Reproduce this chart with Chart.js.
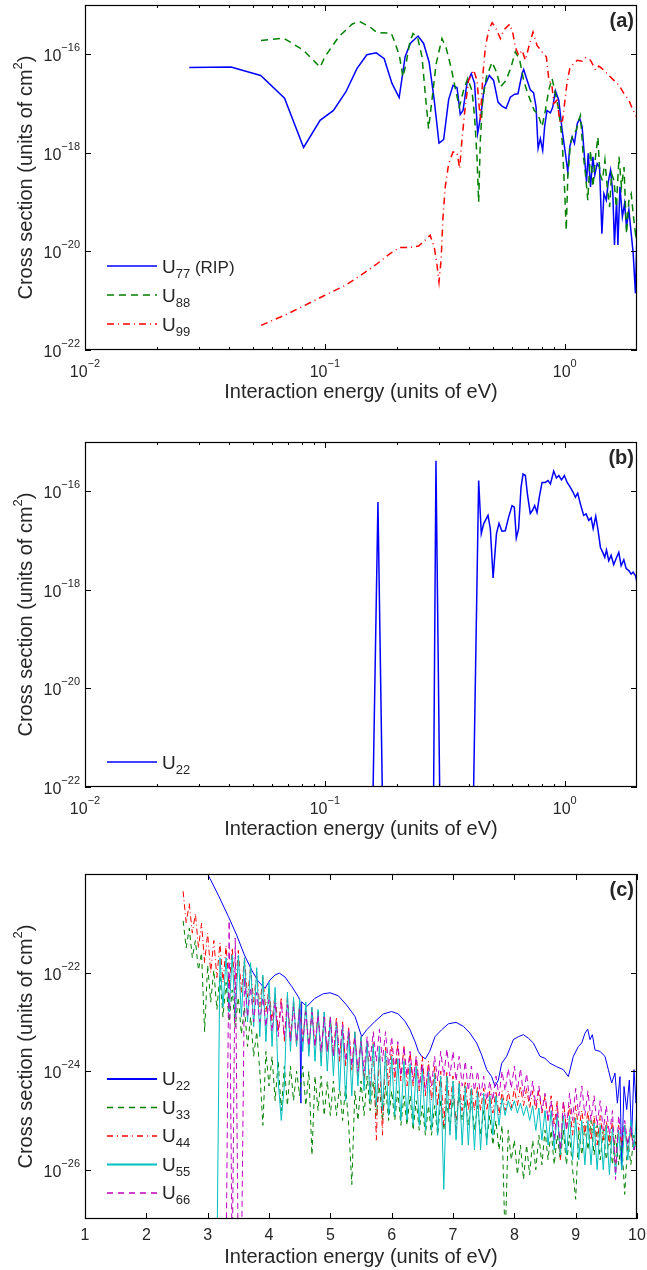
<!DOCTYPE html>
<html>
<head>
<meta charset="utf-8">
<script src="https://cdn.jsdelivr.net/npm/chart.js@4.4.1/dist/chart.umd.min.js"></script>
<style>
  body { margin: 0; background: #fff; }
  .panel { position: absolute; left: 0; }
</style>
</head>
<body>
<div class="panel" style="top:0px"><canvas id="chartA" width="647" height="420"></canvas></div>
<div class="panel" style="top:420px"><canvas id="chartB" width="647" height="430"></canvas></div>
<div class="panel" style="top:840px"><canvas id="chartC" width="647" height="430"></canvas></div>
<script>
// ---- data (cross sections stored as log10 values) ----

// panel (a)
const u77Energy = [0.0272, 0.0406, 0.054, 0.0679, 0.0815, 0.0955, 0.1086, 0.1224, 0.136, 0.1496, 0.1637, 0.1767, 0.1904, 0.204, 0.216, 0.227, 0.2445, 0.258, 0.272, 0.2856, 0.299, 0.3126, 0.328, 0.342, 0.3556, 0.3667, 0.3765, 0.391, 0.4076, 0.4207, 0.4333, 0.4477, 0.462, 0.4846, 0.505, 0.527, 0.547, 0.569, 0.593, 0.618, 0.638, 0.664, 0.674, 0.697, 0.718, 0.741, 0.759, 0.774, 0.791, 0.809, 0.824, 0.843, 0.871, 0.891, 0.914, 0.944, 0.975, 1.006, 1.029, 1.049, 1.073, 1.097, 1.127, 1.154, 1.181, 1.208, 1.232, 1.252, 1.28, 1.31, 1.334, 1.365, 1.396, 1.428, 1.456, 1.49, 1.518, 1.552, 1.586, 1.611, 1.644, 1.665, 1.698, 1.738, 1.775, 1.808, 1.85, 1.892, 1.928, 1.97, 2.0];
const u77Log = [-16.27, -16.26, -16.43, -16.89, -17.89, -17.34, -17.14, -16.76, -16.29, -16.01, -15.97, -16.09, -16.59, -16.88, -16.05, -15.78, -15.63, -15.78, -16.16, -16.93, -17.80, -17.73, -16.92, -16.63, -16.68, -17.22, -17.14, -16.59, -16.39, -16.59, -17.61, -17.21, -16.66, -16.43, -16.53, -16.97, -17.05, -17.10, -16.87, -16.81, -16.80, -16.39, -16.31, -16.53, -16.72, -16.78, -17.07, -17.91, -17.71, -17.95, -17.47, -17.14, -17.19, -17.07, -16.74, -16.93, -17.54, -18.01, -18.39, -17.88, -17.68, -17.81, -17.41, -17.30, -17.47, -18.08, -18.59, -18.01, -18.69, -18.08, -18.45, -18.22, -18.29, -19.64, -18.83, -18.96, -18.59, -18.35, -18.83, -19.87, -18.96, -19.87, -18.69, -19.30, -19.03, -19.50, -19.16, -19.64, -20.04, -20.85, -19.64];

const u88Energy = [0.0542, 0.0672, 0.0815, 0.0955, 0.1, 0.114, 0.1297, 0.139, 0.1545, 0.165, 0.189, 0.1966, 0.2048, 0.2115, 0.218, 0.2254, 0.233, 0.2435, 0.254, 0.262, 0.2705, 0.2794, 0.291, 0.3076, 0.3206, 0.3355, 0.35, 0.3633, 0.3787, 0.3936, 0.4104, 0.4207, 0.4305, 0.4375, 0.4446, 0.4545, 0.4713, 0.4977, 0.519, 0.539, 0.569, 0.597, 0.622, 0.649, 0.674, 0.697, 0.718, 0.746, 0.771, 0.804, 0.83, 0.857, 0.885, 0.914, 0.944, 0.975, 0.997, 1.014, 1.029, 1.056, 1.084, 1.118, 1.143, 1.162, 1.192, 1.219, 1.247, 1.28, 1.31, 1.343, 1.374, 1.40, 1.435, 1.47, 1.503, 1.538, 1.567, 1.603, 1.64, 1.683, 1.722, 1.766, 1.808, 1.85, 1.892, 1.928, 1.97, 2.0];
const u88Log = [-15.72, -15.67, -15.92, -16.26, -16.05, -15.65, -15.39, -15.33, -15.45, -15.56, -15.57, -15.78, -16.05, -16.46, -16.19, -15.78, -15.58, -15.66, -16.05, -16.80, -17.51, -16.93, -16.19, -15.68, -15.88, -16.26, -16.70, -17.07, -16.73, -16.49, -16.74, -17.27, -18.08, -19.00, -17.74, -16.93, -16.46, -16.16, -16.36, -16.66, -16.53, -16.26, -15.95, -16.12, -16.53, -16.76, -16.93, -17.14, -17.20, -17.47, -17.14, -16.73, -16.49, -16.80, -17.14, -17.74, -18.69, -19.57, -18.49, -17.81, -17.61, -17.54, -17.34, -17.24, -18.01, -18.42, -18.96, -17.95, -18.69, -18.08, -17.68, -18.42, -18.56, -18.15, -18.69, -19.10, -18.42, -18.56, -19.10, -18.08, -18.69, -18.29, -19.64, -18.96, -18.83, -19.24, -19.64, -19.43];

const u99Energy = [0.0542, 0.0683, 0.0828, 0.1, 0.1216, 0.1473, 0.165, 0.1875, 0.2048, 0.227, 0.246, 0.262, 0.2746, 0.2856, 0.293, 0.299, 0.305, 0.3107, 0.3175, 0.328, 0.342, 0.3556, 0.3647, 0.3726, 0.3845, 0.397, 0.417, 0.4305, 0.4446, 0.456, 0.4667, 0.482, 0.4977, 0.514, 0.539, 0.556, 0.589, 0.608, 0.622, 0.642, 0.664, 0.685, 0.714, 0.737, 0.766, 0.804, 0.838, 0.857, 0.885, 0.90, 0.928, 0.957, 0.979, 0.998, 1.021, 1.049, 1.089, 1.127, 1.181, 1.219, 1.28, 1.343, 1.386, 1.456, 1.527, 1.603, 1.683, 1.766, 1.85, 1.91, 1.99];
const u99Log = [-21.50, -21.29, -21.09, -20.89, -20.69, -20.42, -20.25, -20.04, -19.92, -19.92, -19.89, -19.77, -19.67, -19.91, -20.25, -20.62, -20.18, -19.30, -18.69, -18.22, -17.98, -18.00, -18.32, -17.74, -17.07, -16.53, -16.32, -16.53, -17.34, -16.39, -15.85, -15.51, -15.36, -15.45, -15.68, -15.51, -15.39, -15.58, -15.85, -16.02, -15.92, -16.12, -15.78, -15.55, -15.82, -15.95, -16.05, -16.49, -16.66, -17.00, -16.93, -17.41, -17.34, -17.00, -16.59, -16.29, -16.19, -16.12, -16.14, -16.07, -16.12, -16.32, -16.24, -16.32, -16.43, -16.53, -16.63, -16.80, -16.93, -17.10, -17.27];

// panel (b)
const u22bEnergy = [0.150, 0.1585, 0.1664, 0.1738, 0.180, 0.280, 0.2837, 0.2904, 0.3013, 0.310, 0.410, 0.4159, 0.4375, 0.4487, 0.459, 0.4786, 0.4893, 0.5026, 0.519, 0.532, 0.547, 0.565, 0.583, 0.603, 0.616, 0.628, 0.642, 0.657, 0.670, 0.685, 0.700, 0.718, 0.735, 0.749, 0.766, 0.783, 0.804, 0.830, 0.851, 0.871, 0.899, 0.923, 0.944, 0.969, 0.996, 1.023, 1.055, 1.083, 1.107, 1.132, 1.162, 1.199, 1.227, 1.259, 1.288, 1.313, 1.346, 1.377, 1.408, 1.44, 1.468, 1.492, 1.525, 1.56, 1.599, 1.642, 1.679, 1.718, 1.762, 1.803, 1.849, 1.891, 1.927, 1.97, 2.0];
const u22bLog = [-23, -22.3, -16.22, -22.3, -23, -23, -22.3, -15.38, -22.3, -23, -23, -22.3, -15.78, -16.86, -16.66, -16.49, -16.76, -17.76, -16.86, -16.65, -16.81, -16.80, -16.53, -16.29, -16.32, -16.95, -16.76, -15.92, -15.65, -15.68, -16.09, -16.45, -16.38, -16.29, -16.43, -16.12, -15.82, -15.82, -15.78, -15.85, -15.59, -15.73, -15.68, -15.77, -15.68, -15.82, -15.92, -16.02, -16.12, -16.04, -16.26, -16.49, -16.46, -16.59, -16.54, -16.76, -16.51, -16.80, -17.14, -17.24, -17.34, -17.19, -17.41, -17.30, -17.49, -17.35, -17.24, -17.51, -17.39, -17.57, -17.61, -17.68, -17.64, -17.71, -17.85];

// panel (c)
const u22cEnergy = [2.85, 3.0, 3.174, 3.337, 3.473, 3.598, 3.717, 3.826, 3.935, 4.016, 4.098, 4.168, 4.261, 4.37, 4.478, 4.50, 4.52, 4.533, 4.614, 4.75, 4.886, 4.995, 5.13, 5.266, 5.402, 5.511, 5.593, 5.729, 5.864, 6.0, 6.109, 6.218, 6.299, 6.381, 6.435, 6.489, 6.55, 6.62, 6.707, 6.815, 6.924, 7.049, 7.168, 7.277, 7.386, 7.467, 7.549, 7.63, 7.685, 7.74, 7.794, 7.875, 7.984, 8.066, 8.147, 8.228, 8.31, 8.419, 8.5, 8.582, 8.69, 8.799, 8.881, 8.962, 9.044, 9.098, 9.152, 9.196, 9.234, 9.272, 9.315, 9.397, 9.478, 9.533, 9.587, 9.641, 9.68, 9.723, 9.75, 9.788, 9.832, 9.875, 9.913, 9.951, 9.984, 10.0];
const u22cLog = [-19.7, -20.0, -20.43, -20.86, -21.24, -21.64, -21.95, -22.18, -22.32, -22.15, -22.05, -22.01, -22.09, -22.28, -22.49, -22.55, -24.65, -22.59, -22.69, -22.52, -22.43, -22.41, -22.47, -22.66, -22.89, -23.30, -23.16, -22.99, -22.84, -22.79, -22.84, -22.99, -23.16, -23.40, -23.6, -23.7, -23.75, -23.6, -23.3, -23.16, -23.04, -23.01, -23.09, -23.23, -23.43, -23.67, -23.97, -24.11, -24.31, -24.18, -23.84, -23.70, -23.36, -23.30, -23.26, -23.33, -23.43, -23.70, -23.74, -23.84, -23.91, -23.97, -24.11, -23.70, -23.50, -23.43, -23.23, -23.15, -23.36, -23.26, -23.57, -23.60, -23.70, -23.97, -24.24, -24.04, -24.65, -24.11, -26.0, -24.31, -24.78, -24.18, -25.32, -23.97, -24.65, -23.97];

const gridC = [2.60, 2.65, 2.70, 2.75, 2.80, 2.85, 2.90, 2.95,
  3.00, 3.05, 3.10, 3.15, 3.20, 3.25, 3.30, 3.35, 3.40, 3.45, 3.50, 3.55, 3.60, 3.65, 3.70, 3.75, 3.80, 3.85, 3.90, 3.95,
  4.00, 4.05, 4.10, 4.15, 4.20, 4.25, 4.30, 4.35, 4.40, 4.45, 4.50, 4.55, 4.60, 4.65, 4.70, 4.75, 4.80, 4.85, 4.90, 4.95,
  5.00, 5.05, 5.10, 5.15, 5.20, 5.25, 5.30, 5.35, 5.40, 5.45, 5.50, 5.55, 5.60, 5.65, 5.70, 5.75, 5.80, 5.85, 5.90, 5.95,
  6.00, 6.05, 6.10, 6.15, 6.20, 6.25, 6.30, 6.35, 6.40, 6.45, 6.50, 6.55, 6.60, 6.65, 6.70, 6.75, 6.80, 6.85, 6.90, 6.95,
  7.00, 7.05, 7.10, 7.15, 7.20, 7.25, 7.30, 7.35, 7.40, 7.45, 7.50, 7.55, 7.60, 7.65, 7.70, 7.75, 7.80, 7.85, 7.90, 7.95,
  8.00, 8.05, 8.10, 8.15, 8.20, 8.25, 8.30, 8.35, 8.40, 8.45, 8.50, 8.55, 8.60, 8.65, 8.70, 8.75, 8.80, 8.85, 8.90, 8.95,
  9.00, 9.05, 9.10, 9.15, 9.20, 9.25, 9.30, 9.35, 9.40, 9.45, 9.50, 9.55, 9.60, 9.65, 9.70, 9.75, 9.80, 9.85, 9.90, 9.95,
  10.00];

const u33Log = [-20.95, -21.5, -21.1, -21.7, -21.35, -21.95, -21.6, -23.2,
  -21.85, -22.6, -21.95, -22.75, -22.05, -22.9, -22.2, -23.0, -22.35, -23.1, -22.5, -23.25, -22.7, -23.5, -22.9, -23.7, -23.2, -24.0, -25.1, -23.6,
  -24.3, -23.7, -24.6, -23.8, -24.8, -23.9, -24.7, -23.9, -24.6, -24.0, -24.5, -23.9, -24.7, -24.0, -25.7, -24.1, -24.8, -24.1, -24.9, -24.2,
  -24.9, -24.2, -24.9, -24.3, -25.0, -24.3, -25.1, -26.3, -24.4, -25.0, -24.2, -24.9, -24.1, -24.8, -24.2, -24.9, -24.3, -25.0, -24.3, -25.0,
  -24.4, -25.0, -24.4, -25.1, -24.5, -25.1, -24.5, -25.2, -24.6, -25.2, -24.7, -25.3, -24.7, -25.3, -24.7, -25.3, -24.6, -25.2, -24.6, -25.2,
  -24.5, -25.0, -24.5, -25.0, -24.6, -25.1, -24.6, -25.2, -24.7, -25.3, -24.8, -25.4, -24.9, -25.5, -25.0, -25.6, -25.1, -27.5, -25.2, -25.8,
  -25.4, -26.1, -25.5, -26.2, -25.5, -26.1, -25.4, -26.0, -25.3, -25.9, -25.2, -25.8, -25.2, -25.9, -25.3, -25.8, -25.2, -25.9, -25.3, -26.0,
  -26.6, -25.2, -25.7, -25.1, -25.6, -25.0, -25.7, -25.1, -25.8, -25.2, -25.8, -25.3, -25.9, -25.3, -25.9, -25.4, -26.5, -25.4, -25.9, -25.3,
  -25.6];

const u44Log = [-20.35, -21.0, -20.6, -21.2, -20.8, -21.5, -21.0, -21.8,
  -21.2, -22.0, -21.35, -22.1, -21.4, -22.2, -21.45, -22.3, -21.5, -22.35, -21.55, -22.4, -21.7, -22.5, -21.9, -22.6, -22.0, -22.7, -22.1, -22.8,
  -22.3, -23.0, -22.4, -23.2, -22.5, -23.4, -22.5, -23.3, -22.6, -23.5, -22.6, -23.4, -22.7, -23.6, -22.7, -23.5, -22.8, -23.8, -22.8, -23.6,
  -22.9, -23.7, -22.9, -23.8, -23.0, -23.9, -23.1, -24.0, -23.2, -24.1, -23.3, -24.2, -23.4, -24.4, -23.4, -25.4, -23.5, -25.3, -23.5, -24.3,
  -23.5, -24.2, -23.45, -24.2, -23.5, -24.3, -23.6, -24.3, -23.7, -24.4, -23.7, -24.5, -23.8, -24.6, -23.9, -24.7, -24.0, -25.1, -24.0, -24.8,
  -24.1, -25.3, -24.2, -24.8, -24.2, -24.8, -24.3, -24.8, -24.3, -24.8, -24.35, -24.8, -24.4, -24.85, -24.4, -24.9, -24.4, -24.8, -24.4, -24.75,
  -24.35, -24.7, -24.3, -24.7, -24.35, -24.75, -24.4, -24.8, -24.4, -24.85, -24.5, -25.0, -24.5, -25.1, -24.6, -25.8, -24.6, -25.2, -24.7, -25.3,
  -24.7, -25.2, -24.8, -25.3, -24.8, -25.4, -24.9, -25.5, -24.9, -25.4, -25.0, -25.5, -25.0, -25.9, -25.1, -25.5, -25.1, -25.6, -25.2, -25.6,
  -25.3];

const u55Log = [null, null, null, null, null, null, null, null,
  null, null, null, -28, -21.7, -22.7, -21.7, -22.8, -21.65, -22.9, -21.65, -22.9, -21.7, -23.0, -21.8, -23.1, -21.9, -23.3, -22.05, -23.4,
  -22.2, -23.5, -22.3, -24.2, -25.0, -24.3, -22.4, -23.6, -22.5, -23.5, -22.55, -23.6, -22.6, -23.7, -22.7, -23.8, -22.75, -23.9, -22.8, -24.0,
  -22.9, -24.1, -23.0, -24.4, -23.1, -24.6, -23.2, -24.5, -23.2, -24.3, -23.3, -24.4, -23.4, -24.6, -23.45, -24.7, -23.5, -24.8, -23.6, -24.9,
  -23.7, -24.9, -23.75, -25.0, -23.8, -25.0, -23.85, -25.1, -23.9, -25.1, -23.95, -25.2, -24.0, -25.2, -24.05, -25.3, -24.1, -26.4, -24.1, -25.3,
  -24.2, -25.4, -24.25, -25.5, -24.3, -25.5, -24.35, -25.6, -24.4, -25.6, -24.45, -25.5, -24.5, -25.3, -24.5, -25.1, -24.55, -24.9, -24.6, -24.8,
  -24.6, -24.85, -24.65, -24.9, -24.7, -25.0, -24.7, -25.2, -24.75, -25.4, -24.8, -25.5, -24.8, -25.6, -24.85, -25.7, -24.9, -25.7, -24.9, -25.8,
  -24.95, -25.8, -25.0, -25.9, -25.0, -25.9, -25.05, -26.0, -25.1, -26.0, -25.1, -26.1, -25.15, -26.1, -25.2, -26.0, -25.1, -25.8, -25.0, -25.6,
  -24.8];

const u66Log = [null, null, null, null, null, null, null, null,
  null, null, null, null, null, null, -28, -20.95, -28, -21.3, -28, -28, -22.1, -22.9, -22.3, -23.0, -22.4, -23.0, -22.5, -23.1,
  -22.55, -23.2, -22.6, -23.3, -22.6, -23.3, -22.65, -23.4, -22.7, -23.4, -22.75, -23.4, -22.8, -23.5, -22.8, -23.5, -22.85, -23.6, -22.9, -23.6,
  -22.9, -23.7, -23.0, -23.7, -23.05, -23.8, -23.15, -23.9, -23.3, -24.0, -23.4, -24.0, -23.3, -23.8, -23.2, -23.8, -23.15, -23.8, -23.2, -23.9,
  -23.3, -24.0, -23.4, -24.1, -23.5, -24.1, -23.6, -24.2, -23.7, -24.3, -23.85, -24.4, -23.9, -24.3, -23.7, -24.2, -23.6, -24.1, -23.55, -24.1,
  -23.6, -24.2, -23.7, -24.3, -23.8, -24.4, -23.9, -24.4, -24.0, -24.5, -24.1, -24.6, -24.2, -24.6, -24.1, -24.5, -24.0, -24.4, -23.95, -24.35,
  -23.9, -24.4, -23.95, -24.5, -24.05, -24.6, -24.2, -24.7, -24.3, -24.8, -24.45, -25.0, -24.6, -25.4, -24.7, -25.6, -24.6, -25.2, -24.45, -25.0,
  -24.35, -24.9, -24.3, -24.9, -24.4, -25.0, -24.5, -25.1, -24.6, -25.2, -24.7, -25.3, -24.8, -26.2, -24.9, -25.4, -25.0, -25.5, -25.1, -25.6,
  -25.4];

// ticks
const logXMajor = [0.01, 0.1, 1];
const logXMajorExp = ['\u22122', '\u22121', '0'];
const logXMinor = [0.02, 0.03, 0.04, 0.05, 0.06, 0.07, 0.08, 0.09, 0.2, 0.3, 0.4, 0.5, 0.6, 0.7, 0.8, 0.9];
const logYTicks = [1e-22, 1e-20, 1e-18, 1e-16];
const logYTickExp = ['\u221222', '\u221220', '\u221218', '\u221216'];
const linXTicks = [1, 2, 3, 4, 5, 6, 7, 8, 9, 10];
const cYTicks = [1e-26, 1e-24, 1e-22];
const cYTickExp = ['\u221226', '\u221224', '\u221222'];

const FONT = "'Liberation Sans', Arial, Helvetica, sans-serif";

function toPoints(E, L) {
  return E.map((e, i) => ({ x: e, y: L[i] === null ? null : Math.pow(10, L[i]) }));
}

function drawPow(ctx, x, y, exp, align) {
  ctx.font = '16px ' + FONT;
  const wb = ctx.measureText('10').width;
  ctx.font = '11px ' + FONT;
  const we = ctx.measureText(exp).width;
  const x0 = align === 'right' ? x - wb - we : x - (wb + we) / 2;
  ctx.textAlign = 'left';
  ctx.textBaseline = 'alphabetic';
  ctx.font = '16px ' + FONT;
  ctx.fillText('10', x0, y);
  ctx.font = '11px ' + FONT;
  ctx.fillText(exp, x0 + wb, y - 10);
}

function drawYTitle(ctx, cx, cy) {
  const a = 'Cross section (units of cm', b = '2', c = ')';
  ctx.save();
  ctx.translate(cx, cy);
  ctx.rotate(-Math.PI / 2);
  ctx.textAlign = 'left';
  ctx.textBaseline = 'alphabetic';
  ctx.font = '20px ' + FONT;
  const wa = ctx.measureText(a).width, wc = ctx.measureText(c).width;
  ctx.font = '13px ' + FONT;
  const wbb = ctx.measureText(b).width;
  let x = -(wa + wbb + wc) / 2;
  ctx.font = '20px ' + FONT;
  ctx.fillText(a, x, 0);
  ctx.font = '13px ' + FONT;
  ctx.fillText(b, x + wa, -10);
  ctx.font = '20px ' + FONT;
  ctx.fillText(c, x + wa + wbb, 0);
  ctx.restore();
}

const panelDecor = {
  id: 'panelDecor',
  afterDraw(chart, args, o) {
    const { ctx, chartArea: a, scales } = chart;
    const xs = scales.x, ys = scales.y;
    ctx.save();
    ctx.strokeStyle = '#000';
    ctx.fillStyle = '#262626';
    ctx.lineWidth = 1;
    ctx.setLineDash([]);

    // ticks, inward on all four sides
    const xTick = (v, len) => {
      const p = Math.round(xs.getPixelForValue(v)) + 0.5;
      ctx.beginPath();
      ctx.moveTo(p, a.bottom); ctx.lineTo(p, a.bottom - len);
      ctx.moveTo(p, a.top); ctx.lineTo(p, a.top + len);
      ctx.stroke();
    };
    const yTick = (v) => {
      const p = Math.round(ys.getPixelForValue(v)) + 0.5;
      ctx.beginPath();
      ctx.moveTo(a.left, p); ctx.lineTo(a.left + 6, p);
      ctx.moveTo(a.right, p); ctx.lineTo(a.right - 6, p);
      ctx.stroke();
    };
    o.xMajor.forEach(v => xTick(v, 6));
    (o.xMinor || []).forEach(v => xTick(v, 3));
    o.yTicks.forEach(v => yTick(v));

    // frame
    ctx.lineWidth = 1.2;
    ctx.strokeRect(a.left + 0.5, a.top + 0.5, a.right - a.left - 1, a.bottom - a.top - 1);

    // tick labels
    o.yTicks.forEach((v, i) => {
      const p = ys.getPixelForValue(v);
      drawPow(ctx, a.left - 5, p + 7, o.yExp[i], 'right');
    });
    if (o.xExp) {
      o.xMajor.forEach((v, i) => {
        drawPow(ctx, xs.getPixelForValue(v), a.bottom + 27, o.xExp[i], 'center');
      });
    } else {
      ctx.font = '16px ' + FONT;
      ctx.textAlign = 'center';
      ctx.textBaseline = 'alphabetic';
      o.xMajor.forEach(v => ctx.fillText(String(v), xs.getPixelForValue(v), a.bottom + 21));
    }

    // axis titles
    ctx.font = '20px ' + FONT;
    ctx.textAlign = 'center';
    ctx.textBaseline = 'alphabetic';
    ctx.fillText('Interaction energy (units of eV)', (a.left + a.right) / 2, a.bottom + o.titleGap);
    drawYTitle(ctx, 32, (a.top + a.bottom) / 2);

    // panel letter
    ctx.font = 'bold 20px ' + FONT;
    ctx.textAlign = 'right';
    ctx.fillText(o.letter, a.right - 3, a.top + 22);

    // legend
    o.legend.forEach((it, i) => {
      const y = o.legendY + i * o.legendStep;
      ctx.strokeStyle = it.color;
      ctx.lineWidth = it.width;
      ctx.setLineDash(it.dash);
      ctx.beginPath();
      ctx.moveTo(107, y); ctx.lineTo(157, y);
      ctx.stroke();
      ctx.setLineDash([]);
      ctx.fillStyle = '#262626';
      ctx.textAlign = 'left';
      ctx.font = '19px ' + FONT;
      ctx.fillText('U', 162, y + o.legendBase);
      const wu = ctx.measureText('U').width;
      ctx.font = '13px ' + FONT;
      ctx.fillText(it.sub, 162 + wu, y + o.legendBase + 5);
      const ws = ctx.measureText(it.sub).width;
      if (it.tail) {
        ctx.font = '17px ' + FONT;
        ctx.fillText(it.tail, 162 + wu + ws, y + o.legendBase);
      }
    });
    ctx.restore();
  }
};

function lineSet(data, color, width, dash) {
  return { data, borderColor: color, borderWidth: width, borderDash: dash, pointRadius: 0, fill: false, tension: 0 };
}

function makeChart(id, pad, xScale, yScale, datasets, decor) {
  return new Chart(document.getElementById(id), {
    type: 'line',
    data: { datasets },
    options: {
      responsive: false,
      animation: false,
      devicePixelRatio: 1,
      layout: { padding: pad },
      scales: { x: xScale, y: yScale },
      plugins: { legend: { display: false }, tooltip: { enabled: false }, panelDecor: decor }
    },
    plugins: [panelDecor]
  });
}

const BLUE = '#0000ff', GREEN = '#008000', RED = '#ff0000', CYAN = '#00bfbf', MAGENTA = '#bf00bf';
const logX = { type: 'logarithmic', min: 0.01, max: 2, display: false };

// (a)
makeChart('chartA', { left: 85, right: 10, top: 5, bottom: 70 }, logX,
  { type: 'logarithmic', min: 1e-22, max: 1e-15, display: false },
  [
    lineSet(toPoints(u99Energy, u99Log), RED, 1.5, [7, 4, 1, 4]),
    lineSet(toPoints(u88Energy, u88Log), GREEN, 1.5, [7, 5]),
    lineSet(toPoints(u77Energy, u77Log), BLUE, 1.5, [])
  ],
  {
    letter: '(a)', xMajor: logXMajor, xMinor: logXMinor, xExp: logXMajorExp,
    yTicks: logYTicks, yExp: logYTickExp, titleGap: 48,
    legendY: 266, legendStep: 29, legendBase: 7,
    legend: [
      { sub: '77', tail: ' (RIP)', color: BLUE, width: 1.5, dash: [] },
      { sub: '88', color: GREEN, width: 1.5, dash: [7, 5] },
      { sub: '99', color: RED, width: 1.5, dash: [7, 4, 1, 4] }
    ]
  });

// (b)
makeChart('chartB', { left: 85, right: 10, top: 22, bottom: 63 }, logX,
  { type: 'logarithmic', min: 1e-22, max: 1e-15, display: false },
  [lineSet(toPoints(u22bEnergy, u22bLog), BLUE, 1.5, [])],
  {
    letter: '(b)', xMajor: logXMajor, xMinor: logXMinor, xExp: logXMajorExp,
    yTicks: logYTicks, yExp: logYTickExp, titleGap: 48,
    legendY: 342, legendStep: 29, legendBase: 7,
    legend: [{ sub: '22', color: BLUE, width: 1.5, dash: [] }]
  });

// (c)
makeChart('chartC', { left: 85, right: 10, top: 34, bottom: 51 },
  { type: 'linear', min: 1, max: 10, display: false },
  { type: 'logarithmic', min: 1e-27, max: 1e-20, display: false },
  [
    lineSet(toPoints(gridC, u66Log), MAGENTA, 1, [6, 4]),
    lineSet(toPoints(gridC, u55Log), CYAN, 1, []),
    lineSet(toPoints(gridC, u44Log), RED, 1, [6, 3, 1, 3]),
    lineSet(toPoints(gridC, u33Log), GREEN, 1, [5, 4]),
    lineSet(toPoints(u22cEnergy, u22cLog), BLUE, 1, [])
  ],
  {
    letter: '(c)', xMajor: linXTicks, yTicks: cYTicks, yExp: cYTickExp, titleGap: 44,
    legendY: 239, legendStep: 28.5, legendBase: 6,
    legend: [
      { sub: '22', color: BLUE, width: 2, dash: [] },
      { sub: '33', color: GREEN, width: 1.5, dash: [6, 5] },
      { sub: '44', color: RED, width: 1.5, dash: [6, 4, 1, 4] },
      { sub: '55', color: CYAN, width: 2, dash: [] },
      { sub: '66', color: MAGENTA, width: 1.5, dash: [6, 5] }
    ]
  });
</script>
</body>
</html>
